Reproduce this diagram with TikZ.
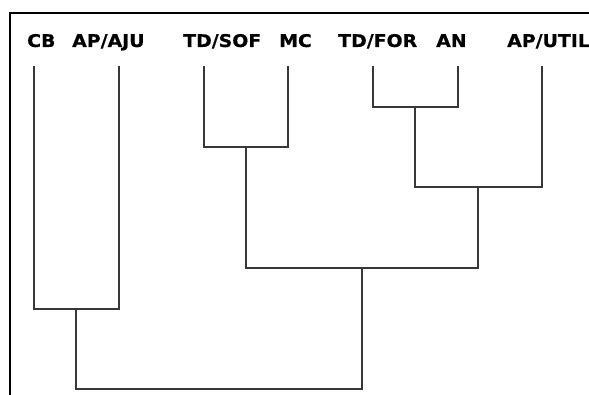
\documentclass[tikz,border=0pt]{standalone}
\usepackage{fontspec}
\newfontfamily\labelfont[FakeStretch=1.08,FakeBold=0.6]{DejaVu Sans Bold}
\begin{document}
\begin{tikzpicture}[x=1pt,y=1pt,
  branch/.style={draw=black!78, line width=1.6pt},
  frameline/.style={draw=black, line width=2.2pt},
  leaflabel/.style={anchor=base west, inner sep=0pt, font=\labelfont\fontsize{17.5}{17.5}\selectfont}]
\useasboundingbox (0,0) rectangle (589,394);
\clip (0,0) rectangle (589,394);
% outer frame (left and top edges)
\draw[frameline] (10,-5) -- (10,381) -- (600,381);
% labels
\node[leaflabel] (lCB)   at (27,347)  {CB};
\node[leaflabel] (lAJU)  at (72,347)  {AP/AJU};
\node[leaflabel] (lSOF)  at (183,347) {TD/SOF};
\node[leaflabel] (lMC)   at (279,347) {MC};
\node[leaflabel] (lFOR)  at (338,347) {TD/FOR};
\node[leaflabel] (lAN)   at (436,347) {AN};
\node[leaflabel] (lUTIL) at (507,347) {AP/UTIL};
% leaf tips
\coordinate (CB)   at (34,328);
\coordinate (AJU)  at (119,328);
\coordinate (SOF)  at (204,328);
\coordinate (MC)   at (288,328);
\coordinate (FOR)  at (373,328);
\coordinate (AN)   at (458,328);
\coordinate (UTIL) at (542,328);
% merge points
\coordinate (m1) at (415,287);
\coordinate (m2) at (246,247);
\coordinate (m3) at (478,207);
\coordinate (m4) at (362,126);
\coordinate (m5) at (76,85);
\coordinate (m6) at (76,5);
% dendrogram branches
\draw[branch] (FOR) |- (m1) -| (AN);
\draw[branch] (SOF) |- (m2) -| (MC);
\draw[branch] (m1) |- (m3) -| (UTIL);
\draw[branch] (m2) |- (m4) -| (m3);
\draw[branch] (CB) |- (m5) -| (AJU);
\draw[branch] (m5) |- (m6) -| (m4);
\end{tikzpicture}
\end{document}
